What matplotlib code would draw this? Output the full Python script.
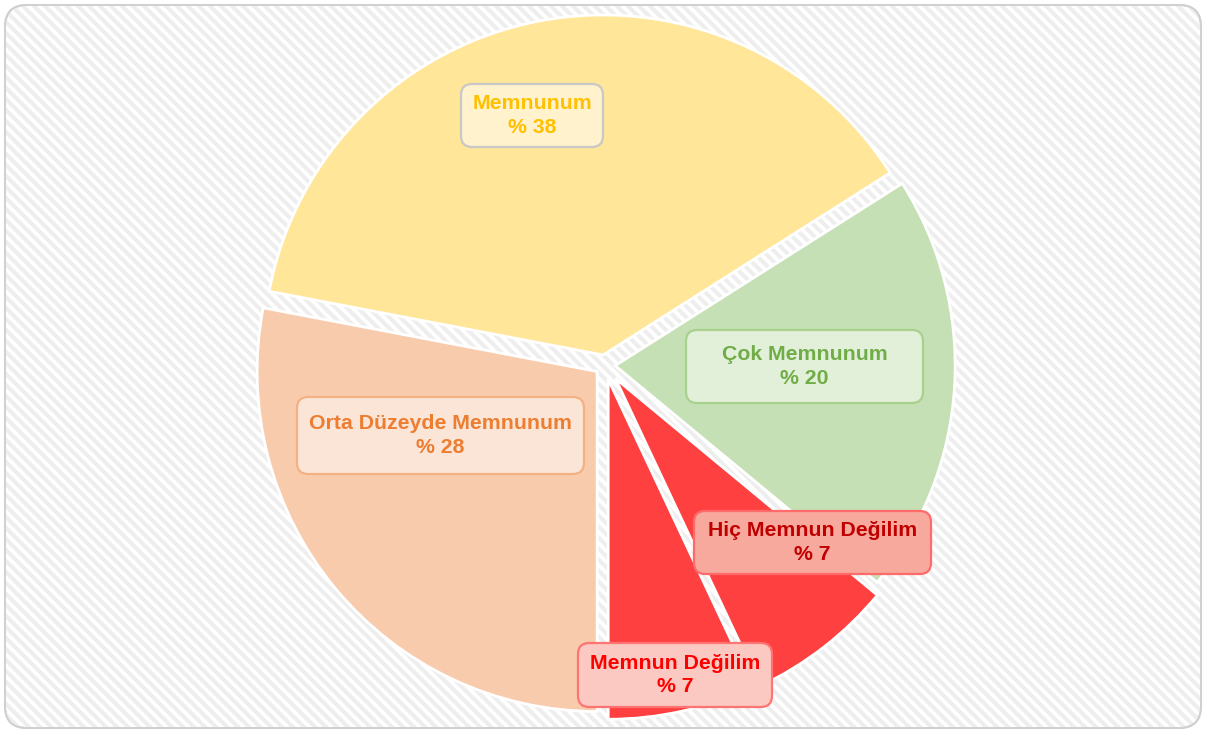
import matplotlib
matplotlib.use("Agg")
import matplotlib.pyplot as plt
import numpy as np
from matplotlib.patches import FancyBboxPatch
from matplotlib.collections import LineCollection

# data
labels = ["Çok Memnunum", "Hiç Memnun Değilim", "Memnun Değilim",
          "Orta Düzeyde Memnunum", "Memnunum"]
values = [20, 7, 7, 28, 38]
colors = ["#C5E0B4", "#FF4040", "#FF4040", "#F8CBAD", "#FFE699"]
explode = [0.03, 0.05, 0.043, 0.03, 0.03]

# label box styles: text color, fill, edge, box (x0, y0, x1, y1) in image pixels
text_colors = ["#70AD47", "#C00000", "#FF0000", "#ED7D31", "#FFC000"]
box_fill = ["#E2F0D9", "#F8A99D", "#FBC9C2", "#FBE5D6", "#FFF2CC"]
box_edge = ["#A9D18E", "#FF6B6B", "#FF7373", "#F4B183", "#C8C8C8"]
boxes = [(686, 330, 923, 403), (694, 511, 931, 574), (578, 643, 772, 707),
         (297, 397, 584, 474), (461, 84, 603, 147)]

W, H = 1206, 731
R = 340
plt.rcParams['font.family'] = ['Liberation Sans', 'DejaVu Sans']

fig = plt.figure(figsize=(W / 100, H / 100), dpi=100)
ax = fig.add_axes([0, 0, 1, 1])

# background card with diagonal stripes
card = FancyBboxPatch((5, 3), W - 10, H - 8,
                      boxstyle="round,pad=0,rounding_size=22",
                      fc="white", ec="#D0D0D0", lw=1.4, zorder=0)
ax.add_patch(card)
segs = []
for c in np.arange(-H, W + H, 11):
    segs.append([(c, H), (c + H, 0)])
stripes = LineCollection(segs, colors="#EEEEEE", linewidths=2.9, zorder=0.5)
ax.add_collection(stripes)
stripes.set_clip_path(card)
border = FancyBboxPatch((5, 3), W - 10, H - 8,
                        boxstyle="round,pad=0,rounding_size=22",
                        fc="none", ec="#D0D0D0", lw=1.4, zorder=0.6)
ax.add_patch(border)

# pie (explode offsets are in data units, so scale by radius)
start = 270 + sum(values[:3]) * 3.6
wedges, _ = ax.pie(values, colors=colors, explode=[e * R for e in explode],
                   startangle=start, counterclock=False, radius=R,
                   center=(605, H - 365),
                   wedgeprops=dict(edgecolor="white", linewidth=2.0),
                   frame=True)
for w in wedges:
    w.set_zorder(1)
ax.set_xlim(0, W)
ax.set_ylim(0, H)
ax.set_aspect('auto')
ax.axis('off')

# labels
for i in range(len(labels)):
    x0, y0, x1, y1 = boxes[i]
    p = FancyBboxPatch((x0, H - y1), x1 - x0, y1 - y0,
                       boxstyle="round,pad=0,rounding_size=11",
                       fc=box_fill[i], ec=box_edge[i], lw=1.6, zorder=3)
    ax.add_patch(p)
    ax.text((x0 + x1) / 2, H - (y0 + y1) / 2,
            labels[i] + "\n% " + str(values[i]),
            ha="center", va="center", fontsize=15.3, fontweight="bold",
            color=text_colors[i], linespacing=1.3, zorder=4)

fig.savefig("out.png", dpi=100)
